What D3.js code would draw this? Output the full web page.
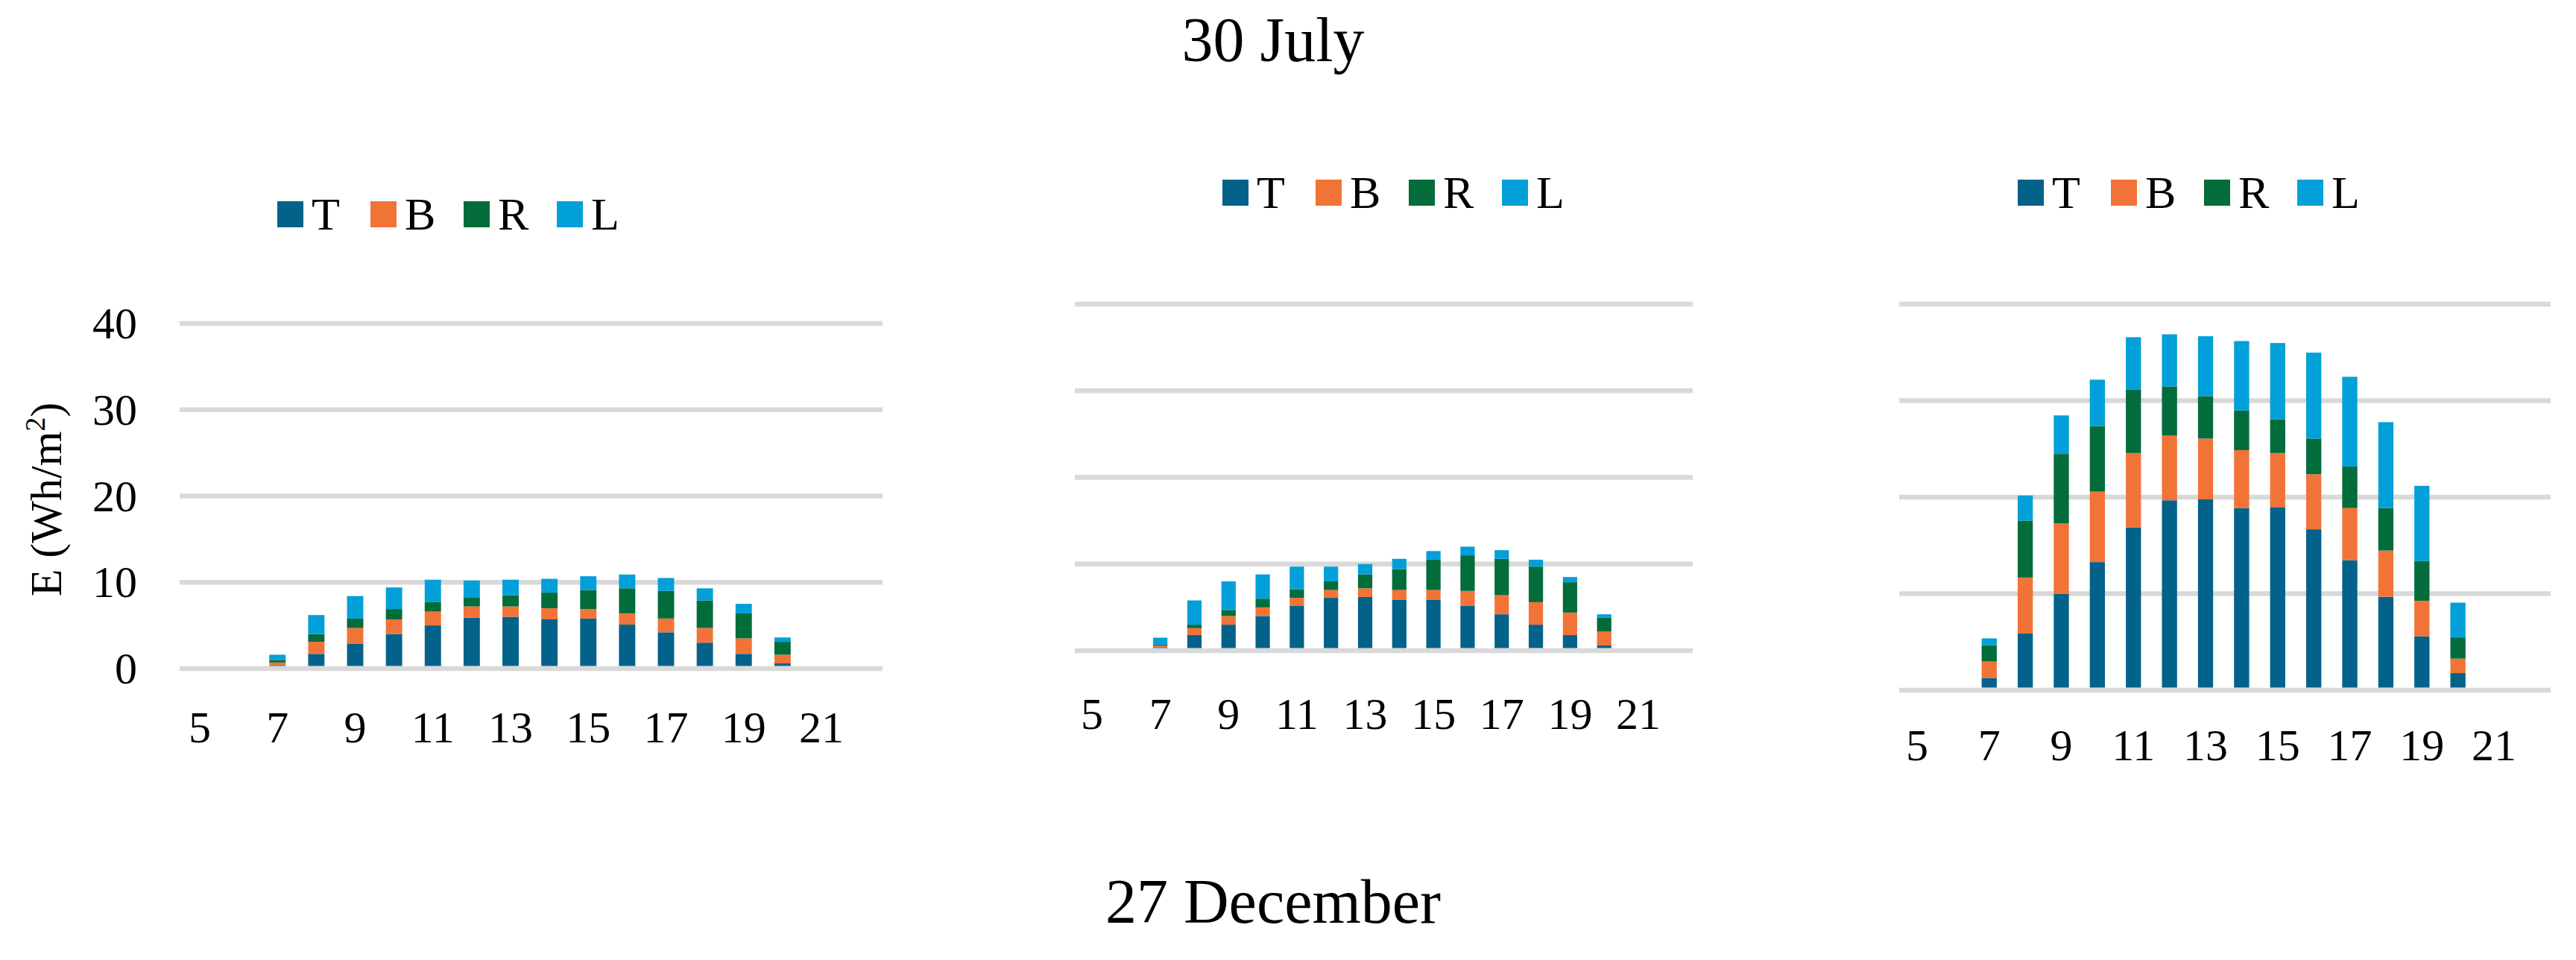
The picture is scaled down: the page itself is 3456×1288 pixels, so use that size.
<!DOCTYPE html>
<html><head><meta charset="utf-8">
<script src="https://cdn.jsdelivr.net/npm/d3@7"></script>
<style>body{margin:0;background:#fff}svg{display:block}text{font-family:"Liberation Serif","DejaVu Serif",serif;fill:#000}</style>
</head><body><svg id="c" width="3456" height="1288"></svg>
<script>
const hours = [5,6,7,8,9,10,11,12,13,14,15,16,17,18,19,20,21];
const tickLabels = [5,7,9,11,13,15,17,19,21];
const yTicks = [0,10,20,30,40];
const seriesNames = ["T","B","R","L"];
const colors = ["#02628a","#f27338","#026c3b","#02a0d9"];
// values per hour 7..20 (hours 5,6,21 = 0)
const p1T = [0,0,0.1,1.4,2.6,3.7,4.7,5.6,5.7,5.4,5.5,4.8,3.9,2.7,1.4,0.3,0];
const p1B = [0,0,0.3,1.4,1.8,1.7,1.6,1.3,1.2,1.3,1.1,1.3,1.6,1.7,1.8,1.0,0];
const p1R = [0,0,0.3,0.9,1.1,1.2,1.1,1.0,1.3,1.8,2.2,2.9,3.2,3.2,2.9,1.5,0];
const p1L = [0,0,0.6,2.2,2.6,2.5,2.6,2.0,1.8,1.6,1.6,1.6,1.5,1.4,1.1,0.5,0];
const p2T = [0,0,0.1,1.5,2.7,3.7,4.9,5.8,5.9,5.6,5.6,4.9,3.9,2.7,1.5,0.3,0];
const p2B = [0,0,0.2,0.8,1.0,1.0,0.9,0.9,1.0,1.1,1.1,1.7,2.2,2.6,2.6,1.6,0];
const p2R = [0,0,0.1,0.4,0.7,1.0,1.0,1.0,1.6,2.4,3.5,4.1,4.2,4.1,3.5,1.6,0];
const p2L = [0,0,0.8,2.8,3.3,2.8,2.6,1.7,1.2,1.2,1.0,1.0,1.0,0.8,0.6,0.4,0];
const p3T = [0,0,1.0,5.6,9.7,13.0,16.6,19.4,19.5,18.6,18.7,16.4,13.2,9.4,5.3,1.5,0];
const p3B = [0,0,1.7,5.8,7.3,7.3,7.7,6.7,6.3,6.0,5.6,5.7,5.4,4.8,3.7,1.5,0];
const p3R = [0,0,1.7,5.9,7.2,6.8,6.6,5.1,4.4,4.1,3.5,3.7,4.3,4.4,4.1,2.2,0];
const p3L = [0,0,0.7,2.6,4.0,4.8,5.4,5.4,6.2,7.2,7.9,8.9,9.3,8.9,7.8,3.6,0];

const panels = [
  {vals:[p1T,p1B,p1R,p1L], gx:[241,1184], x5:268, x21:1102, y0:897, y40:434, labY:996, legX:372, legY:287, yAxis:true},
  {vals:[p2T,p2B,p2R,p2L], gx:[1442,2271], x5:1465, x21:2198, y0:873, y40:408, labY:978, legX:1640, legY:258},
  {vals:[p3T,p3B,p3R,p3L], gx:[2548,3422], x5:2572, x21:3346, y0:926, y40:408, labY:1020, legX:2707, legY:258}
];
const svg = d3.select("#c");
svg.append("text").attr("x",1708).attr("y",82).attr("text-anchor","middle").attr("font-size",84).text("30 July");
svg.append("text").attr("x",1708).attr("y",1238).attr("text-anchor","middle").attr("font-size",84).text("27 December");

panels.forEach(p=>{
  const step=(p.x21-p.x5)/16;
  const x=d3.scaleBand().domain(hours).range([p.x5-step/2,p.x21+step/2]).paddingInner(0.58).paddingOuter(0.29);
  const y=d3.scaleLinear().domain([0,40]).range([p.y0,p.y40]);
  const g=svg.append("g");
  g.selectAll("line.grid").data(yTicks).join("line").attr("x1",p.gx[0]).attr("x2",p.gx[1])
    .attr("y1",d=>y(d)).attr("y2",d=>y(d)).attr("stroke","#d9d9d9").attr("stroke-width",6.5);
  const table=hours.map((h,i)=>{const o={h};seriesNames.forEach((s,k)=>o[s]=p.vals[k][i]);return o;});
  const stacked=d3.stack().keys(seriesNames)(table);
  const off=3.5;
  g.selectAll("g.s").data(stacked).join("g").attr("fill",(d,i)=>colors[i])
    .selectAll("rect").data(d=>d.filter(e=>e[1]-e[0]>0)).join("rect")
    .attr("x",d=>x(d.data.h)).attr("width",x.bandwidth())
    .attr("y",d=>y(d[1])-off).attr("height",d=>y(d[0])-y(d[1]));
  g.selectAll("text.xl").data(tickLabels).join("text").attr("x",d=>x(d)+x.bandwidth()/2).attr("y",p.labY)
    .attr("text-anchor","middle").attr("font-size",60).text(d=>d);
  if(p.yAxis){
    g.selectAll("text.yl").data(yTicks).join("text").attr("x",184).attr("y",d=>y(d)+20)
      .attr("text-anchor","end").attr("font-size",60).text(d=>d);
    const t=g.append("text").attr("transform","translate(82,670) rotate(-90)").attr("text-anchor","middle").attr("font-size",60);
    t.append("tspan").text("E (Wh/m");
    t.append("tspan").attr("font-size",38).attr("dy",-22).text("2");
    t.append("tspan").attr("dy",22).text(")");
  }
  const leg=g.selectAll("g.leg").data(seriesNames).join("g").attr("transform",(d,i)=>`translate(${p.legX+i*125},${p.legY})`);
  leg.append("rect").attr("x",0).attr("y",-17).attr("width",35).attr("height",35).attr("fill",(d,i)=>colors[i]);
  leg.append("text").attr("x",46).attr("y",21).attr("font-size",62).text(d=>d);
});
</script></body></html>
